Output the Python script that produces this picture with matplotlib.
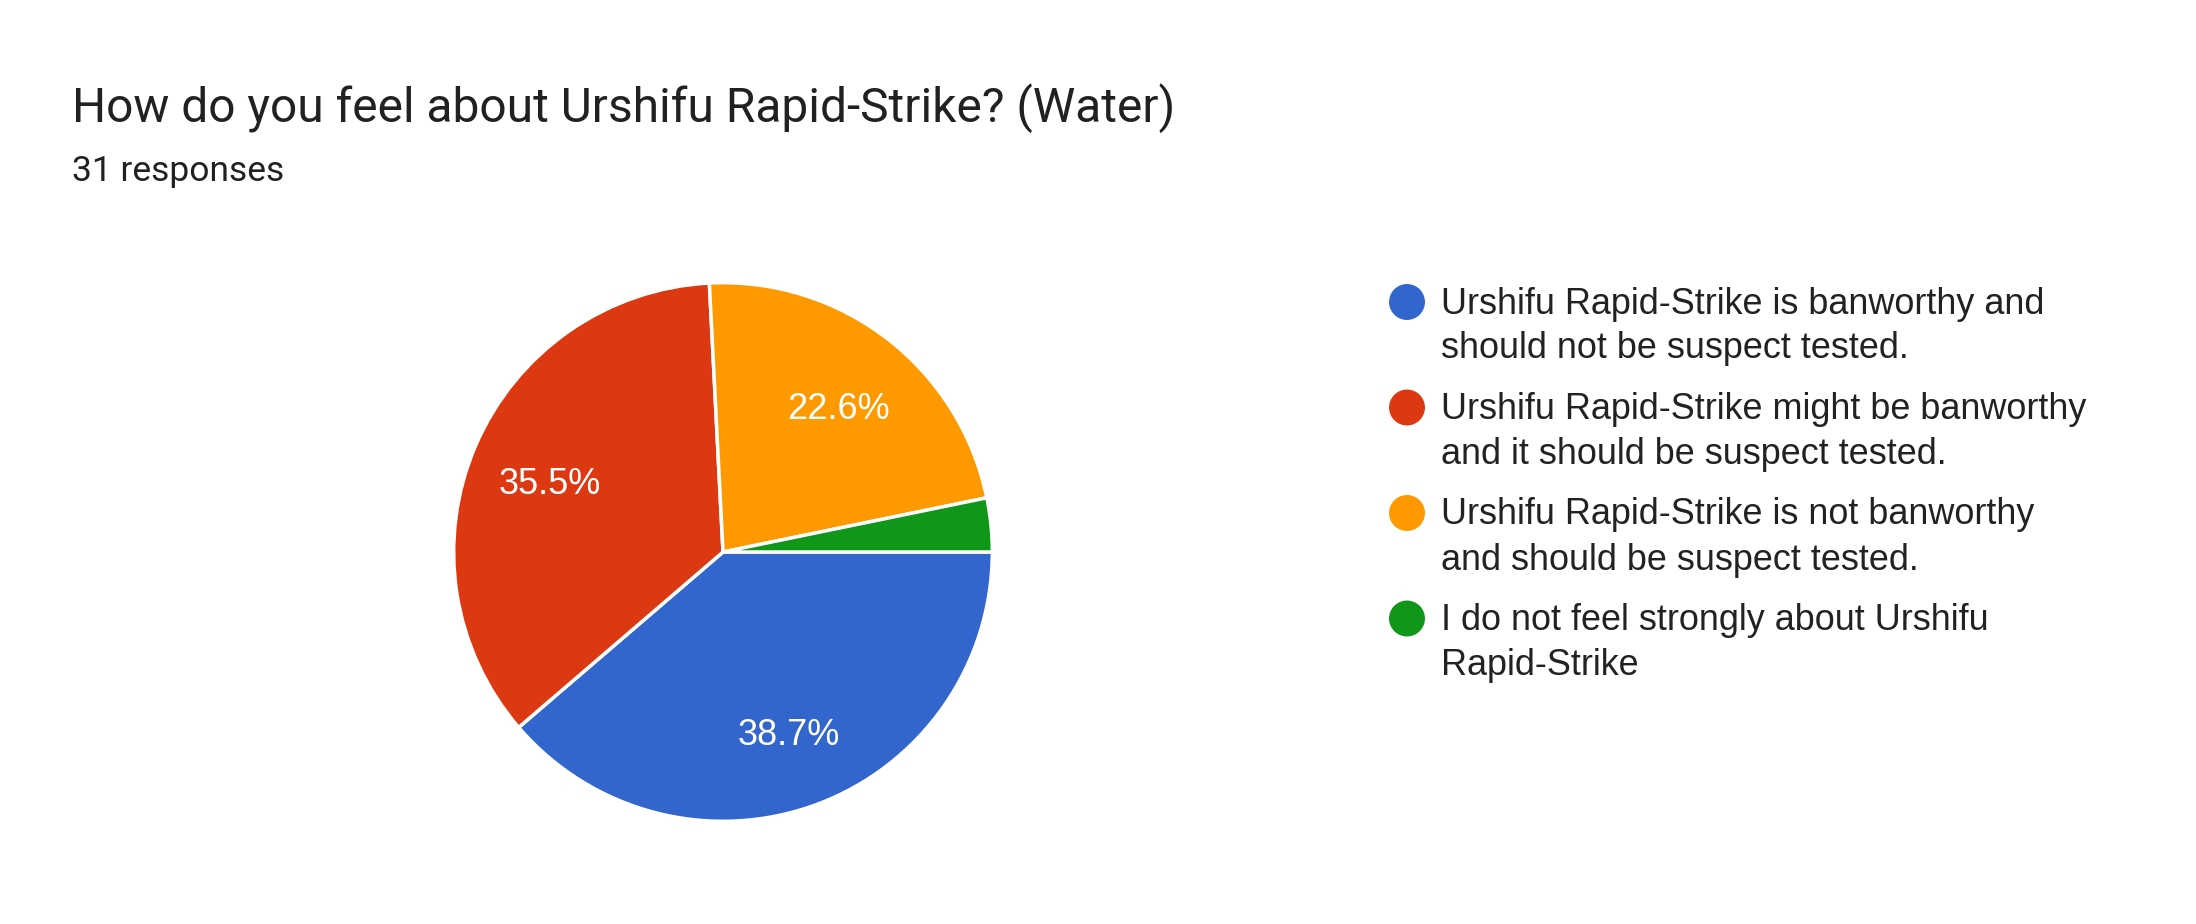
import matplotlib
matplotlib.use('Agg')
import matplotlib.pyplot as plt

plt.rcParams['font.family'] = ['Roboto', 'DejaVu Sans']
chart_font = ['Liberation Sans', 'DejaVu Sans']

title = 'How do you feel about Urshifu Rapid-Strike? (Water)'
subtitle = '31 responses'
labels = [
    'Urshifu Rapid-Strike is banworthy and\nshould not be suspect tested.',
    'Urshifu Rapid-Strike might be banworthy\nand it should be suspect tested.',
    'Urshifu Rapid-Strike is not banworthy\nand should be suspect tested.',
    'I do not feel strongly about Urshifu\nRapid-Strike',
]
counts = [12, 11, 7, 1]
colors = ['#3366CC', '#DC3912', '#FF9900', '#109618']

W, H = 2196, 924
fig = plt.figure(figsize=(W / 100, H / 100), dpi=100)
fig.patch.set_facecolor('white')

# pie axes, placed in pixels
cx, cy, r = 723, 552, 272
ax = fig.add_axes([(cx - r) / W, (H - cy - r) / H, 2 * r / W, 2 * r / H])
wedges, texts, autotexts = ax.pie(
    counts, colors=colors, startangle=0, counterclock=False,
    autopct=lambda p: f'{p:.1f}%' if p > 5 else '', pctdistance=0.7,
    wedgeprops=dict(edgecolor='white', linewidth=2.5),
    textprops=dict(color='white', fontsize=26, family=chart_font))
for t in autotexts:
    x, y = t.get_position()
    t.set_position((x, y - 0.025))
ax.set_xlim(-1.01, 1.01)
ax.set_ylim(-1.01, 1.01)
ax.set_aspect('equal')

# overlay for title and legend
ov = fig.add_axes([0, 0, 1, 1])
ov.set_xlim(0, W)
ov.set_ylim(H, 0)
ov.axis('off')

ov.text(72, 108, title, fontsize=34.5, color='#212121', va='center', ha='left')
ov.text(72, 171, subtitle, fontsize=25.5, color='#212121', va='center', ha='left')

y0, step, line_h = 302, 105.5, 45
for i, (lab, col) in enumerate(zip(labels, colors)):
    y = y0 + i * step
    ov.scatter([1407], [y], s=670, color=col, edgecolors='none')
    for j, line in enumerate(lab.split('\n')):
        ov.text(1441, y + 2 + j * line_h, line, fontsize=25.9, color='#222222',
                family=chart_font, va='center', ha='left')

fig.savefig('out.png', dpi=100, facecolor='white')
